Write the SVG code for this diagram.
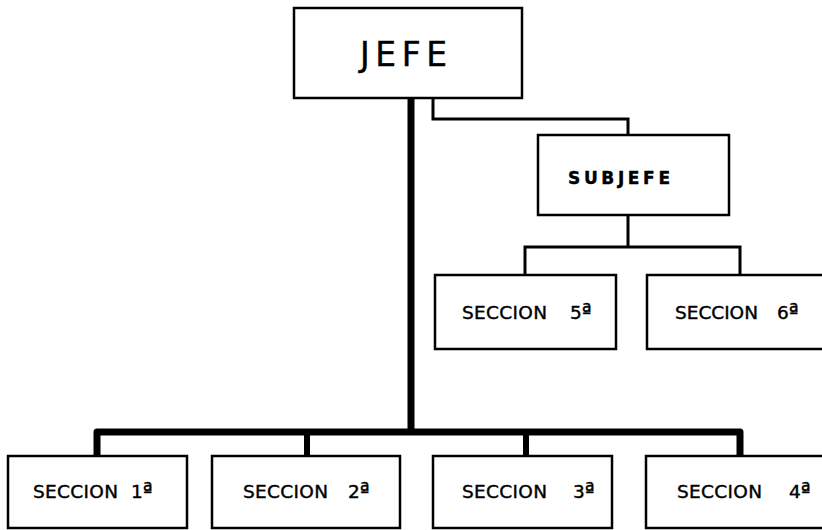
<svg xmlns="http://www.w3.org/2000/svg" width="822" height="530" viewBox="0 0 822 530">
<style>
.box{fill:#fff;stroke:#000;stroke-width:2.5;}
.t{font-family:"DejaVu Sans","Liberation Sans",sans-serif;fill:#000;stroke:#000;stroke-width:0.4;}
.s{font-size:18.5px;}
.o{font-size:21px;}
.thin{fill:none;stroke:#000;stroke-width:3;}
.thick{fill:none;stroke:#000;stroke-width:7;stroke-linejoin:round;}
.drop{fill:none;stroke:#000;stroke-width:6;}
</style>
<rect width="822" height="530" fill="#fff"/>
<g id="connectors">
<path class="thin" d="M433,98 V119 H628 V136"/>
<path class="thin" d="M628,215 V247 M525,275 V247 H740 V275"/>
<path class="thick" d="M411,98 V432"/>
<path class="thick" d="M97,456 V432 H740 V456"/>
<path class="drop" d="M307,432 V456 M526,432 V456"/>
</g>
<g id="jefe">
<rect class="box" x="294" y="8" width="228" height="90"/>
<text class="t" x="360" y="66" font-size="33" textLength="87" lengthAdjust="spacing">JEFE</text>
</g>
<g id="subjefe">
<rect class="box" x="538" y="135" width="191" height="80"/>
<text class="t" x="568" y="184" font-size="17" font-weight="bold" stroke-width="0" textLength="102" lengthAdjust="spacing">SUBJEFE</text>
</g>
<g id="seccion5">
<rect class="box" x="435" y="275" width="181" height="74"/>
<text class="t s" x="462" y="319" textLength="85" lengthAdjust="spacing">SECCION</text>
<text class="t s" x="570" y="319">5<tspan class="o">ª</tspan></text>
</g>
<g id="seccion6">
<rect class="box" x="647" y="275" width="177" height="74"/>
<text class="t s" x="675" y="319" textLength="83" lengthAdjust="spacing">SECCION</text>
<text class="t s" x="777" y="319">6<tspan class="o">ª</tspan></text>
</g>
<g id="seccion1">
<rect class="box" x="8" y="456" width="179" height="72"/>
<text class="t s" x="33" y="498" textLength="85" lengthAdjust="spacing">SECCION</text>
<text class="t s" x="131" y="498">1<tspan class="o">ª</tspan></text>
</g>
<g id="seccion2">
<rect class="box" x="212" y="456" width="188" height="72"/>
<text class="t s" x="243" y="498" textLength="85" lengthAdjust="spacing">SECCION</text>
<text class="t s" x="348" y="498">2<tspan class="o">ª</tspan></text>
</g>
<g id="seccion3">
<rect class="box" x="433" y="456" width="179" height="72"/>
<text class="t s" x="462" y="498" textLength="85" lengthAdjust="spacing">SECCION</text>
<text class="t s" x="573" y="498">3<tspan class="o">ª</tspan></text>
</g>
<g id="seccion4">
<rect class="box" x="646" y="456" width="178" height="72"/>
<text class="t s" x="677" y="498" textLength="85" lengthAdjust="spacing">SECCION</text>
<text class="t s" x="789" y="498">4<tspan class="o">ª</tspan></text>
</g>
</svg>
